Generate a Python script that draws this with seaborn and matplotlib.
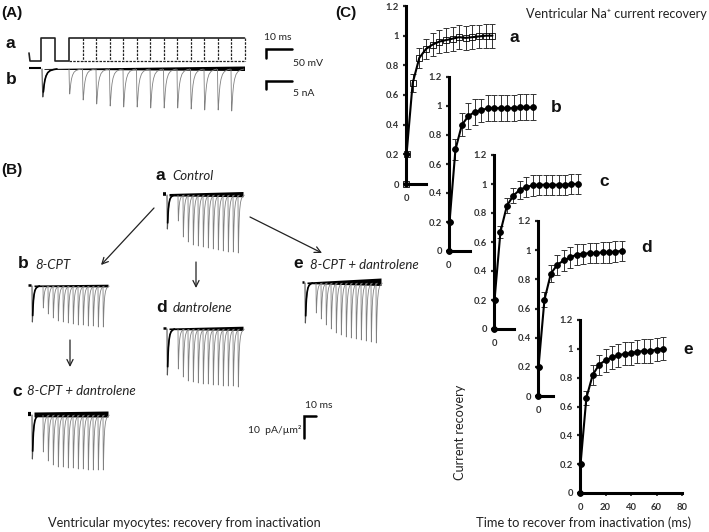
import matplotlib
matplotlib.use("Agg")
import matplotlib.pyplot as plt
import numpy as np
import seaborn as sns

sns.set_theme(style="white")
plt.rcParams["font.family"] = ["Lato", "DejaVu Sans"]

W, H = 709, 532

# recovery curves, panel C
times = [0, 0.4, 5, 10, 15, 20, 25, 30, 35, 40, 45, 50, 55, 60, 65]
rec_a = [0, 0.2, 0.68, 0.85, 0.91, 0.94, 0.96, 0.97, 0.98, 0.99, 0.985, 0.99, 0.995, 1.0, 1.0]
err_a = [0, 0, 0.06, 0.07, 0.07, 0.08, 0.08, 0.08, 0.08, 0.08, 0.08, 0.08, 0.08, 0.08, 0.08]
rec_b = [0, 0.2, 0.70, 0.87, 0.93, 0.96, 0.97, 0.985, 0.985, 0.985, 0.985, 0.985, 0.99, 0.99, 0.99]
err_b = [0, 0, 0.07, 0.08, 0.09, 0.09, 0.08, 0.09, 0.09, 0.09, 0.09, 0.09, 0.09, 0.09, 0.09]
rec_c = [0, 0.2, 0.67, 0.85, 0.92, 0.96, 0.98, 0.99, 0.995, 0.995, 0.995, 0.995, 0.995, 1.0, 1.0]
err_c = [0, 0, 0.04, 0.05, 0.05, 0.06, 0.07, 0.07, 0.07, 0.07, 0.07, 0.07, 0.07, 0.07, 0.07]
rec_d = [0, 0.2, 0.66, 0.84, 0.90, 0.93, 0.95, 0.97, 0.975, 0.98, 0.98, 0.985, 0.985, 0.99, 0.995]
err_d = [0, 0, 0.05, 0.06, 0.07, 0.07, 0.07, 0.07, 0.07, 0.07, 0.07, 0.07, 0.07, 0.07, 0.07]
rec_e = [0, 0.2, 0.66, 0.82, 0.89, 0.92, 0.94, 0.955, 0.965, 0.97, 0.98, 0.985, 0.985, 0.995, 1.0]
err_e = [0, 0, 0.05, 0.07, 0.07, 0.08, 0.08, 0.08, 0.08, 0.08, 0.08, 0.08, 0.08, 0.08, 0.08]

y_ticks = [0, 0.2, 0.4, 0.6, 0.8, 1, 1.2]
y_tick_labels = ["0", "0.2", "0.4", "0.6", "0.8", "1", "1.2"]
x_ticks_e = [0, 20, 40, 60, 80]

# current trace peaks (depth below baseline, px at this size)
peaks_A = [25, 31, 35, 37, 38, 38, 39, 39, 39, 40, 41, 41, 42]
first_A = 28
peaks_Ba = [26, 42, 47, 50, 51, 52, 53, 54, 55, 56, 57, 57, 58]
first_Ba = 34
peaks_Bb = [22, 28, 32, 35, 36, 37, 38, 39, 39, 40, 40, 41, 41]
first_Bb = 36
peaks_Bc = [37, 46, 50, 52, 52, 53, 53, 54, 54, 55, 55, 55, 55]
first_Bc = 44
peaks_Bd = [40, 48, 52, 53, 54, 55, 55, 56, 56, 57, 57, 57, 58]
first_Bd = 46
peaks_Be = [30, 36, 42, 46, 50, 52, 54, 55, 56, 57, 58, 59, 60]
first_Be = 40

# time course of one transient, ms and fraction of peak
shape_ms = [0, 0.3, 0.7, 1.2, 1.8, 2.5, 3.5, 5, 7, 10, 13]
shape_frac = [0, 0.55, 1.0, 0.82, 0.58, 0.40, 0.25, 0.13, 0.06, 0.02, 0]

step_ms = 5  # interval between test pulses


def to_fig(x, y):
    return x / W, 1 - y / H


fig = plt.figure(figsize=(W / 100, H / 100), dpi=100)
bg = fig.add_axes([0, 0, 1, 1])
bg.set_xlim(0, W)
bg.set_ylim(H, 0)
bg.axis("off")


def traces(ax, x0, x_end, base, peaks, first, px_ms, width, first_x, pulse_x, wedge0, wedge1, stub=1.5):
    t = np.array(shape_ms) * width
    f = np.array(shape_frac)
    for i, p in enumerate(peaks):
        xs = pulse_x + i * step_ms * px_ms + t
        ax.plot(xs, base + p * f, color="#808080", lw=0.6, solid_capstyle="butt")
    xs = first_x + t * 1.15
    ax.plot(xs, base + first * f, color="#555555", lw=0.8)
    ax.plot(xs[3:], (base + first * f)[3:], color="black", lw=1.2)
    # overlaid baselines, thickening towards the end of the sweep
    ax.fill_between([first_x + 2, x_end], [base - wedge0, base - wedge1], [base + wedge0 * 0.6, base + wedge1 * 0.5],
                    color="black", lw=0)
    ax.plot([x0, first_x - 1], [base - 1, base - 1], color="black", lw=stub, solid_capstyle="butt")


# (A) voltage protocol
prot_top, prot_bot = 38, 61
px_ms_A = 2.7
pulse_0 = 69
ends = pulse_0 + 13 * step_ms * px_ms_A
bg.plot([29, 30, 41, 41, 55, 55, 69, 69, ends], [53, 61, 61, prot_top, prot_top, prot_bot, prot_bot, prot_top, prot_top],
        color="#222222", lw=1.2)
bg.plot([pulse_0, ends], [prot_bot, prot_bot], color="#222222", lw=0.9, ls=(0, (2, 1)))
for i in range(1, 14):
    xx = pulse_0 + i * step_ms * px_ms_A
    bg.plot([xx, xx], [prot_top, prot_bot], color="#222222", lw=0.9, ls=(0, (2, 1)))
traces(bg, 29, ends, 69, peaks_A, first_A, px_ms_A, 1.0, 42, pulse_0, 0.5, 3)

# (B) traces
traces(bg, 163, 243, 195, peaks_Ba, first_Ba, 1.0, 0.5, 167, 178, 1.5, 3.5, stub=2.6)
traces(bg, 28, 108, 286, peaks_Bb, first_Bb, 1.0, 0.5, 32, 43, 1, 1.8, stub=1.8)
traces(bg, 28, 108, 415, peaks_Bc, first_Bc, 1.0, 0.5, 32, 43, 3, 4, stub=3)
traces(bg, 163, 243, 329, peaks_Bd, first_Bd, 1.0, 0.5, 167, 178, 1, 2.8, stub=1.8)
traces(bg, 302, 381, 283, peaks_Be, first_Be, 1.0, 0.5, 305, 316, 1, 5, stub=1.8)

# arrows
arrow = dict(arrowstyle="->", color="#222222", lw=0.9, mutation_scale=11, shrinkA=0, shrinkB=0)
for start, end in [((154, 208), (101, 265)), ((196, 262), (196, 288)), ((250, 217), (322, 253)), ((70, 340), (70, 367))]:
    bg.annotate("", xy=end, xytext=start, arrowprops=arrow)

# scale bars
for xs, ys in [([266, 266, 292], [58, 49, 49]), ([266, 266, 292], [89, 81, 81]), ([304, 304, 316], [438, 416, 416])]:
    bg.plot(xs, ys, color="black", lw=1.8, solid_joinstyle="miter")

bold = dict(family=["Liberation Sans"], fontweight="bold", color="#111111", va="center")
ital = dict(style="italic", color="#222222", fontsize=9.5, va="center")
small = dict(color="#222222", fontsize=7.5, va="center")
big = dict(color="#222222", fontsize=9.2, va="center")

for label, x, y in [("(A)", 1, 13), ("(B)", 1, 170), ("(C)", 335, 13)]:
    bg.text(x, y, label, fontsize=11, **bold)
for label, x, y in [("a", 6, 43), ("b", 6, 79), ("a", 155, 175), ("b", 18, 264), ("e", 293, 264),
                    ("d", 156, 307), ("c", 12, 391), ("a", 509, 37), ("b", 551, 108),
                    ("c", 599, 181), ("d", 641, 247), ("e", 683, 349)]:
    bg.text(x, y, label, fontsize=12.5, **bold)
for label, x, y in [("Control", 172, 176), ("8-CPT", 35, 265), ("8-CPT + dantrolene", 310, 265),
                    ("dantrolene", 173, 308), ("8-CPT + dantrolene", 27, 391)]:
    bg.text(x, y, label, **ital)
for label, x, y in [("10 ms", 264, 37), ("50 mV", 293, 64), ("5 nA", 293, 94), ("10 ms", 305, 406),
                    ("10  pA/µm²", 248, 430)]:
    bg.text(x, y, label, **small)
bg.text(526, 14, "Ventricular Na⁺ current recovery", color="#222222", fontsize=9.1, va="center")
bg.text(48, 523, "Ventricular myocytes: recovery from inactivation", **big)
bg.text(476, 523, "Time to recover from inactivation (ms)", color="#222222", fontsize=9.3, va="center")
bg.text(460, 432, "Current recovery", rotation=90, ha="center", **big)

# (C) recovery panels: axis x, y of 0, y of 1.2, end of the x axis, px per ms
panels = [
    (406, 184, 6, 426, 1.33, rec_a, err_a, "s", "none", False),
    (449, 251, 77, 470, 1.29, rec_b, err_b, "o", "black", False),
    (494, 329, 155, 514, 1.29, rec_c, err_c, "o", "black", False),
    (538, 396, 221, 553, 1.29, rec_d, err_d, "o", "black", False),
    (580, 493, 320, 682, 1.28, rec_e, err_e, "o", "black", True),
]
for x_ax, y0, y12, x_end, px_ms, rec, err, mk, face, full in panels:
    left, bottom = to_fig(x_ax, y0)
    ax = fig.add_axes([left, bottom, (x_end - x_ax) / W, (y0 - y12) / H])
    ax.patch.set_alpha(0)
    ax.errorbar(times[2:], rec[2:], yerr=err[2:], fmt="none", ecolor="#333333", elinewidth=0.7,
                capsize=2.2, capthick=0.7, clip_on=False, zorder=1)
    sns.lineplot(x=times, y=rec, ax=ax, color="black", lw=1.5, estimator=None, sort=False,
                 marker=mk, markersize=4.2, markerfacecolor=face,
                 markeredgecolor="black", markeredgewidth=0.6, clip_on=False, zorder=2)
    # first two points of the hollow series are drawn solid in the original
    sns.scatterplot(x=times[:2], y=rec[:2], ax=ax, color="black", s=16, linewidth=0, clip_on=False, zorder=3)
    ax.set_xlim(0, (x_end - x_ax) / px_ms)
    ax.set_ylim(0, 1.2)
    ax.set_yticks(y_ticks)
    ax.set_yticklabels(y_tick_labels)
    ax.set_xticks(x_ticks_e if full else [0])
    ax.set_xticklabels([str(v) for v in ax.get_xticks()])
    sns.despine(ax=ax)
    for s in ["left", "bottom"]:
        ax.spines[s].set_linewidth(2.2)
        ax.spines[s].set_color("black")
    ax.tick_params(axis="y", length=2, width=1.6, pad=3, labelsize=6.8, labelcolor="#333333", left=True)
    ax.tick_params(axis="x", length=2 if full else 0, width=1.2, pad=5 if full else 7, labelsize=6.8,
                   labelcolor="#333333", bottom=True)
    for t in ax.get_xticklabels() + ax.get_yticklabels():
        t.set_fontweight("bold")

fig.savefig("out.png", dpi=100)
